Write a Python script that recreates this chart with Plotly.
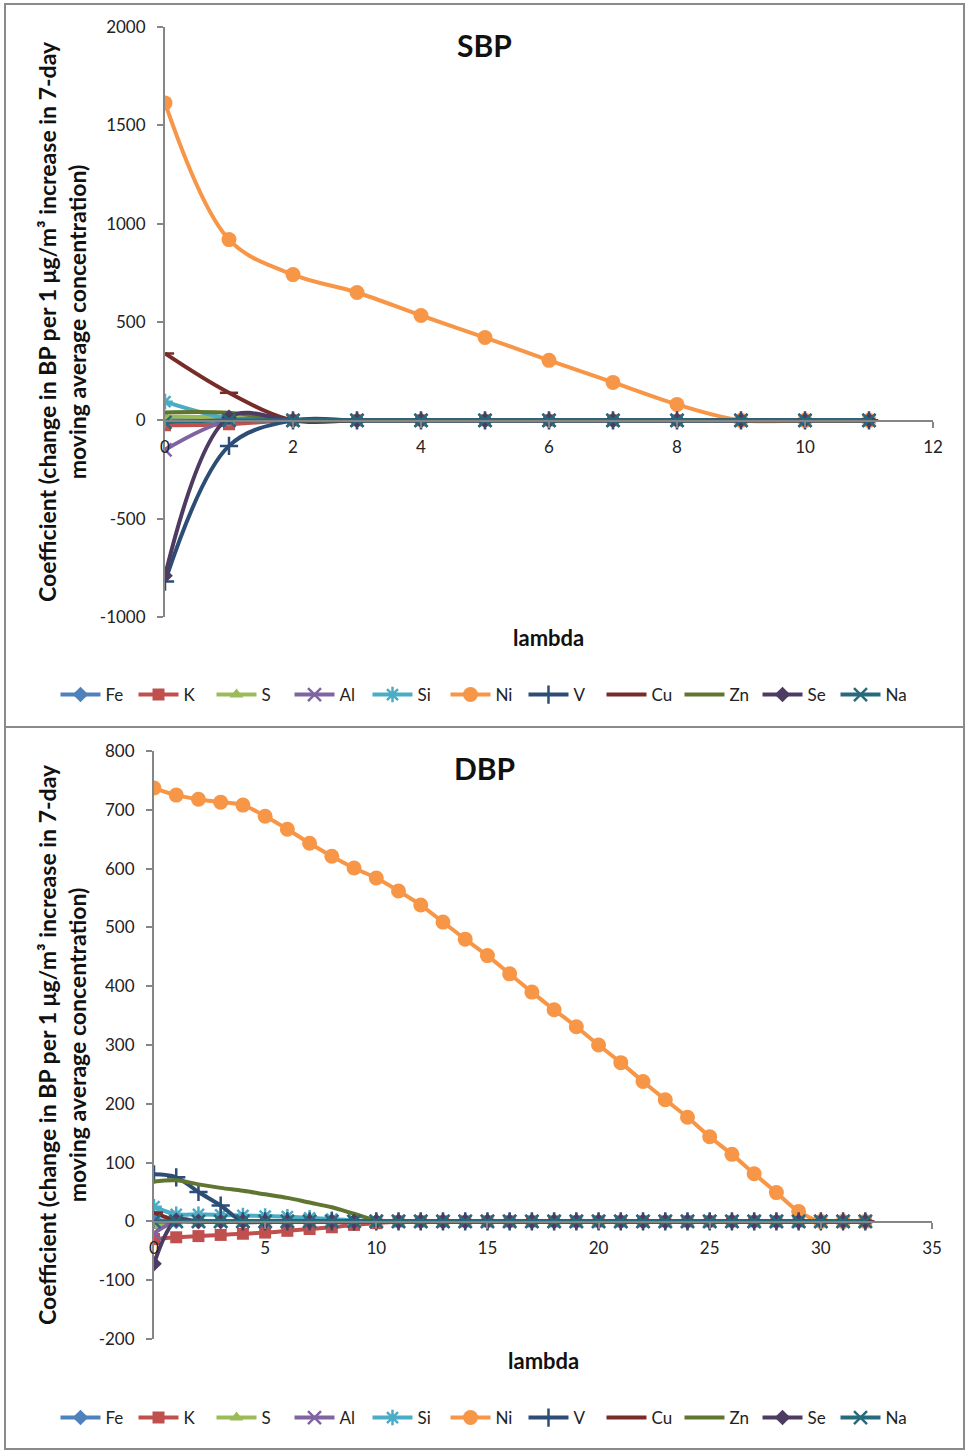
import plotly.graph_objects as go

W, H = 969, 1452

series_names = ["Fe", "K", "S", "Al", "Si", "Ni", "V", "Cu", "Zn", "Se", "Na"]
colors = ["#4F81BD", "#C0504D", "#9BBB59", "#8064A2", "#4BACC6", "#F79646",
          "#2C4D75", "#772C2A", "#5F7530", "#4D3B62", "#276A7C"]
symbols = ["diamond", "square", "triangle-up", "x-thin-open", "asterisk-open", "circle",
           "cross-thin-open", "line-ew-open", None, "diamond", "x-thin-open"]

# SBP panel (lambda 0..11)
sbp_lambda = list(range(12))
sbp = {
    "Fe": [5, 0, 0, 0, 0, 0, 0, 0, 0, 0, 0, 0],
    "K":  [-25, -20, 0, 0, 0, 0, 0, 0, 0, 0, 0, 0],
    "S":  [20, 15, 0, 0, 0, 0, 0, 0, 0, 0, 0, 0],
    "Al": [-150, 0, 0, 0, 0, 0, 0, 0, 0, 0, 0, 0],
    "Si": [95, 10, 0, 0, 0, 0, 0, 0, 0, 0, 0, 0],
    "Ni": [1614, 919, 741, 650, 533, 421, 305, 193, 81, 0, 0, 0],
    "V":  [-820, -130, 0, 0, 0, 0, 0, 0, 0, 0, 0, 0],
    "Cu": [340, 140, 0, 0, 0, 0, 0, 0, 0, 0, 0, 0],
    "Zn": [40, 38, 0, 0, 0, 0, 0, 0, 0, 0, 0, 0],
    "Se": [-790, 15, 0, 0, 0, 0, 0, 0, 0, 0, 0, 0],
    "Na": [-10, 0, 0, 0, 0, 0, 0, 0, 0, 0, 0, 0],
}
sbp_ticks = [-1000, -500, 0, 500, 1000, 1500, 2000]
sbp_ticktext = ["-1000", "-500", "0", "500", "1000", "1500", "2000"]

# DBP panel (lambda 0..32)
dbp_lambda = list(range(33))
def pad(v):
    return v + [0] * (33 - len(v))
dbp = {
    "Fe": pad([3, 0]),
    "K":  pad([-30, -27, -25, -23, -21, -19, -16, -13, -10, -6, -3]),
    "S":  pad([-8, 0]),
    "Al": pad([-20, 0]),
    "Si": pad([25, 12, 12, 11, 10, 9, 8, 6, 4, 2]),
    "Ni": [737, 725, 718, 713, 708, 689, 667, 643, 621, 601, 584, 562, 538, 509,
           480, 452, 421, 390, 360, 331, 300, 270, 238, 207, 177, 144, 114, 81,
           49, 17, 0, 0, 0],
    "V":  pad([80, 75, 50, 27]),
    "Cu": pad([15, 2]),
    "Zn": pad([68, 70, 63, 57, 52, 46, 40, 32, 24, 13, 2]),
    "Se": pad([-72, 2]),
    "Na": pad([0]),
}
dbp_ticks = [-200, -100, 0, 100, 200, 300, 400, 500, 600, 700, 800]
dbp_ticktext = ["-200", "-100", "0", "100", "200", "300", "400", "500", "600", "700", "800"]

FONT = "Lato"
AX = "#868686"

fig = go.Figure()

def add_panel(xs, data, xa, ya, legend):
    for name, col, sym in zip(series_names, colors, symbols):
        mk = dict(color=col, size=12)
        mode = "lines+markers"
        if sym is None:
            mode = "lines"
        else:
            mk["symbol"] = sym
            if sym == "circle":
                mk["size"] = 15
            if sym.endswith("-open"):
                mk["line"] = dict(color=col, width=2.5)
                mk["size"] = 13
        fig.add_trace(go.Scatter(
            x=xs, y=data[name], name=name, mode=mode,
            line=dict(color=col, width=4, shape="spline", smoothing=1.0),
            marker=mk, xaxis=xa, yaxis=ya, legend=legend,
        ))

add_panel(sbp_lambda, sbp, "x", "y", "legend")
add_panel(dbp_lambda, dbp, "x2", "y2", "legend2")

def px_x(p):
    return p / W
def px_y(p):
    return 1 - p / H

tickfont = dict(family=FONT, size=17, color="#222")
common = dict(showgrid=False, zeroline=False, showline=True, linecolor=AX, linewidth=2,
              ticks="outside", ticklen=6, tickcolor=AX, tickwidth=2, tickfont=tickfont,
              automargin=False)

legend_common = dict(orientation="h", x=0.5, xanchor="center", yanchor="middle",
                     font=dict(family=FONT, size=17, color="#222"), itemwidth=40,
                     entrywidth=23, tracegroupgap=0)

fig.update_layout(
    width=W, height=H,
    margin=dict(l=0, r=0, t=0, b=0, autoexpand=False),
    paper_bgcolor="white", plot_bgcolor="white",
    font=dict(family=FONT),
    xaxis=dict(common, domain=[px_x(165), px_x(933)], range=[0, 12], dtick=2,
               anchor="free", position=px_y(421), ticklabelstandoff=5),
    yaxis=dict(common, domain=[px_y(617), px_y(27)], range=[-1000, 2000],
               tickvals=sbp_ticks, ticktext=sbp_ticktext, anchor="x", ticklabelstandoff=8),
    xaxis2=dict(common, domain=[px_x(154), px_x(932)], range=[0, 35], dtick=5,
                anchor="free", position=px_y(1222), ticklabelstandoff=5),
    yaxis2=dict(common, domain=[px_y(1339), px_y(751)], range=[-200, 800],
                tickvals=dbp_ticks, ticktext=dbp_ticktext, anchor="x2", ticklabelstandoff=8),
    legend=dict(legend_common, y=px_y(695)),
    legend2=dict(legend_common, y=px_y(1418)),
    shapes=[
        dict(type="rect", xref="paper", yref="paper", x0=px_x(5), x1=px_x(964),
             y0=px_y(727), y1=px_y(4), line=dict(color="#8a8a8a", width=2)),
        dict(type="rect", xref="paper", yref="paper", x0=px_x(5), x1=px_x(964),
             y0=px_y(1449), y1=px_y(727), line=dict(color="#8a8a8a", width=2)),
    ],
)

ytitle = "Coefficient (change in BP per 1 μg/m³ increase in 7-day<br>moving average concentration)"
annos = [
    dict(text="<b>SBP</b>", x=px_x(485), y=px_y(45), size=30),
    dict(text="<b>DBP</b>", x=px_x(485), y=px_y(768), size=30),
    dict(text="<b>lambda</b>", x=px_x(548), y=px_y(637), size=22),
    dict(text="<b>lambda</b>", x=px_x(543), y=px_y(1360), size=22),
]
for a in annos:
    fig.add_annotation(text=a["text"], x=a["x"], y=a["y"], xref="paper", yref="paper",
                       showarrow=False, xanchor="center", yanchor="middle",
                       font=dict(family=FONT, size=a["size"], color="#111"))
for yc in (322, 1045):
    fig.add_annotation(text="<b>" + ytitle + "</b>", x=px_x(62), y=px_y(yc),
                       xref="paper", yref="paper", showarrow=False, textangle=-90,
                       xanchor="center", yanchor="middle",
                       font=dict(family=FONT, size=23, color="#111"))

fig.write_html("out.html", config={"displayModeBar": False},
               post_script="document.body.style.margin='0';document.body.style.overflow='hidden';")
